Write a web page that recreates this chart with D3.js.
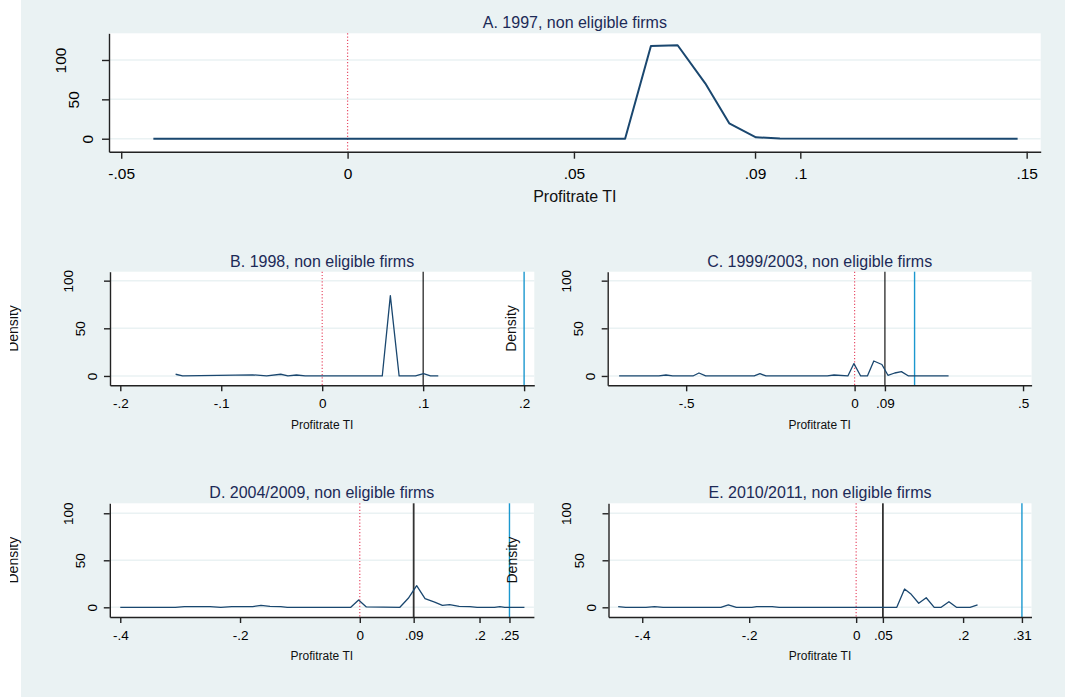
<!DOCTYPE html>
<html>
<head>
<meta charset="utf-8">
<script src="https://cdn.jsdelivr.net/npm/d3@7"></script>
<style>
  body { margin: 0; background: #fff; }
  svg { display: block; }
</style>
</head>
<body>
<svg id="chart" width="1065" height="697"></svg>
<script>
// values (profit rate, density)
const profitA = [-0.0429, 0.0613, 0.0670, 0.0729, 0.0790, 0.0843, 0.0902, 0.0955, 0.148]
const densityA = [0, 0, 117.8, 118.7, 70.4, 19.6, 1.8, 0.3, 0]

const profitB = [-0.1452, -0.1383, -0.069, -0.055, -0.041, -0.034, -0.0255, -0.0168, 0.0595, 0.0675, 0.0762, 0.0924, 0.1004, 0.1073, 0.115]
const densityB = [1.8, 0, 1.2, 0, 1.8, 0, 1.0, 0, 0, 84.3, 0, 0, 2.4, 0, 0]

const profitC = [-0.699, -0.581, -0.560, -0.540, -0.480, -0.462, -0.442, -0.298, -0.281, -0.263, -0.081, -0.061, -0.020, -0.002, 0.018, 0.038, 0.057, 0.081, 0.099, 0.119, 0.139, 0.160, 0.279]
const densityC = [0, 0, 1.0, 0, 0, 3.1, 0, 0, 2.4, 0, 0, 1.0, 0, 13.0, 0, 0, 15.7, 12.0, 0.7, 3.1, 4.5, 0, 0]

const profitD = [-0.4, -0.308, -0.293, -0.25, -0.232, -0.214, -0.179, -0.165, -0.150, -0.132, -0.121, -0.015, -0.002, 0.011, 0.067, 0.081, 0.095, 0.109, 0.125, 0.138, 0.150, 0.166, 0.184, 0.196, 0.225, 0.234, 0.242, 0.275]
const densityD = [0, 0, 0.7, 0.7, 0, 0.7, 0.7, 2.1, 1.0, 0.7, 0, 0, 7.8, 0.4, 0, 9.6, 23.0, 9.2, 5.6, 2.1, 2.8, 1.0, 0.7, 0, 0, 0.7, 0, 0]

const profitE = [-0.445, -0.431, -0.393, -0.377, -0.361, -0.253, -0.239, -0.224, -0.195, -0.186, -0.157, -0.144, 0.076, 0.0905, 0.103, 0.117, 0.131, 0.146, 0.159, 0.1735, 0.1875, 0.213, 0.227]
const densityE = [0.7, 0, 0, 0.7, 0, 0, 2.5, 0, 0, 0.7, 0.7, 0, 0, 19.5, 13.8, 4.3, 10.2, 0, 0, 6.0, 0, 0, 2.5]

const titles = [
  'A. 1997, non eligible firms',
  'B. 1998, non eligible firms',
  'C. 1999/2003, non eligible firms',
  'D. 2004/2009, non eligible firms',
  'E. 2010/2011, non eligible firms'
]

const xTicksA = [-0.05, 0, 0.05, 0.09, 0.1, 0.15]
const xTicksB = [-0.2, -0.1, 0, 0.1, 0.2]
const xTicksC = [-0.5, 0, 0.09, 0.5]
const xTicksD = [-0.4, -0.2, 0, 0.09, 0.2, 0.25]
const xTicksE = [-0.4, -0.2, 0, 0.05, 0.2, 0.31]
const yTicks = [0, 50, 100]

// reference lines: red dotted at zero, black and blue vertical lines
const zeroLines = [0, 0, 0, 0, 0]
const blackLines = [null, 0.1, 0.09, 0.09, 0.05]
const blueLines = [null, 0.2, 0.178, 0.25, 0.31]

const xLabel = 'Profitrate TI'
const yLabel = 'Density'

const font = "'Liberation Sans', Arial, sans-serif"
const bg = '#eaf2f3'

// layout of each plot region
const panels = [
  { left: 109, top: 33.3, width: 931.7, height: 118.4, xDom: [-0.0527, 0.1531], yDom: [-16.5, 133.9],
    tickFs: 15.5, labelFs: 16, tickLen: 7, tickGap: 21.3, yBase: 8.5, yStep: 13.5, labelGap: 45, curveW: 2, yTitle: false },
  { left: 110, top: 271.7, width: 424.3, height: 113.6, xDom: [-0.2102, 0.2101], yDom: [-9.8, 109.4],
    tickFs: 13.5, labelFs: 12, tickLen: 6, tickGap: 18, yBase: 5.3, yStep: 12.2, labelGap: 39.5, curveW: 1.3, yTitle: true },
  { left: 607.7, top: 271.7, width: 423.9, height: 113.6, xDom: [-0.7329, 0.5254], yDom: [-9.8, 109.4],
    tickFs: 13.5, labelFs: 12, tickLen: 6, tickGap: 18, yBase: 5.3, yStep: 12.2, labelGap: 39.5, curveW: 1.3, yTitle: true },
  { left: 109.8, top: 503.3, width: 424.1, height: 113.7, xDom: [-0.4175, 0.2908], yDom: [-10.3, 110.6],
    tickFs: 13.5, labelFs: 12, tickLen: 6, tickGap: 18.5, yBase: 5.3, yStep: 12.2, labelGap: 38.5, curveW: 1.3, yTitle: true, thick: true },
  { left: 608.5, top: 503.3, width: 423, height: 113.7, xDom: [-0.4631, 0.3279], yDom: [-10.3, 110.6],
    tickFs: 13.5, labelFs: 12, tickLen: 6, tickGap: 18.5, yBase: 5.3, yStep: 12.2, labelGap: 38.5, curveW: 1.3, yTitle: true, thick: true }
]
const profits = [profitA, profitB, profitC, profitD, profitE]
const densities = [densityA, densityB, densityC, densityD, densityE]
const xTicks = [xTicksA, xTicksB, xTicksC, xTicksD, xTicksE]

const fmt = d => d === 0 ? '0' : String(d).replace('0.', '.')

const svg = d3.select('#chart').style('font-family', font)

svg.append('rect')
  .attr('x', 21).attr('y', 0)
  .attr('width', 1044).attr('height', 697)
  .attr('fill', bg)

svg.append('defs').append('clipPath').attr('id', 'page')
  .append('rect').attr('x', 10).attr('y', 0).attr('width', 1055).attr('height', 697)

const titleLayer = svg.append('g').attr('clip-path', 'url(#page)')

panels.forEach((p, i) => {
  const x = d3.scaleLinear().domain(p.xDom).range([p.left, p.left + p.width])
  const y = d3.scaleLinear().domain(p.yDom).range([p.top + p.height, p.top])
  const bottom = p.top + p.height
  const g = svg.append('g')

  g.append('rect')
    .attr('x', p.left).attr('y', p.top)
    .attr('width', p.width).attr('height', p.height)
    .attr('fill', '#fff')

  g.selectAll('.grid')
    .data(yTicks)
    .join('line')
    .attr('x1', p.left).attr('x2', p.left + p.width)
    .attr('y1', d => y(d)).attr('y2', d => y(d))
    .attr('stroke', bg)
    .attr('stroke-width', 1.5)

  const vline = (v, color, w, dash) => {
    if (v == null) return
    g.append('line')
      .attr('x1', x(v)).attr('x2', x(v))
      .attr('y1', p.top).attr('y2', bottom)
      .attr('stroke', color)
      .attr('stroke-width', w)
      .attr('stroke-dasharray', dash)
  }
  vline(zeroLines[i], '#e8506a', 1.2, '1.2,2')
  vline(blackLines[i], p.thick ? '#333' : '#000', p.thick ? 1.8 : 1.1, null)
  vline(blueLines[i], '#1b98cf', 1.4, null)

  const line = d3.line()
    .x(d => x(d[0]))
    .y(d => y(d[1]))

  g.append('path')
    .datum(d3.zip(profits[i], densities[i]))
    .attr('d', line)
    .attr('fill', 'none')
    .attr('stroke', '#1a476f')
    .attr('stroke-width', p.curveW)
    .attr('stroke-linejoin', 'round')

  const xAxis = g.append('g')
    .attr('transform', `translate(0, ${bottom})`)
    .call(d3.axisBottom(x).tickValues(xTicks[i]).tickFormat(fmt).tickSize(p.tickLen).tickSizeOuter(0))
  xAxis.selectAll('path, line').attr('stroke', '#222').attr('stroke-width', 1.4)
  xAxis.selectAll('text')
    .attr('y', p.tickGap + 0.36 * p.tickFs)
    .attr('dy', null)
    .attr('fill', '#000')
    .style('font-size', p.tickFs + 'px')
    .style('font-family', font)

  // Stata shifts vertical labels left by their length
  const yAxis = g.append('g')
    .attr('transform', `translate(${p.left}, 0)`)
    .call(d3.axisLeft(y).tickValues(yTicks).tickSize(p.tickLen).tickSizeOuter(0))
  yAxis.selectAll('path, line').attr('stroke', '#222').attr('stroke-width', 1.4)
  yAxis.selectAll('text')
    .attr('transform', 'rotate(-90)')
    .attr('x', 0)
    .attr('y', d => -(p.yBase + p.yStep * String(d).length - 0.358 * p.tickFs))
    .attr('dy', null)
    .attr('text-anchor', 'middle')
    .attr('fill', '#000')
    .style('font-size', p.tickFs + 'px')
    .style('font-family', font)

  g.append('text')
    .attr('x', p.left + p.width / 2)
    .attr('y', p.top - 5.2)
    .attr('text-anchor', 'middle')
    .attr('fill', '#1c2a57')
    .style('font-size', '16px')
    .text(titles[i])

  g.append('text')
    .attr('x', p.left + p.width / 2)
    .attr('y', bottom + p.labelGap + 0.36 * p.labelFs)
    .attr('text-anchor', 'middle')
    .attr('fill', '#111')
    .style('font-size', p.labelFs + 'px')
    .text(xLabel)

  if (p.yTitle) {
    const cx = p.left - 91.7
    const cy = p.top + p.height / 2
    titleLayer.append('text')
      .attr('transform', `translate(${cx}, ${cy}) rotate(-90)`)
      .attr('text-anchor', 'middle')
      .attr('fill', '#111')
      .style('font-size', '14px')
      .text(yLabel)
  }
})

titleLayer.raise()
</script>
</body>
</html>
